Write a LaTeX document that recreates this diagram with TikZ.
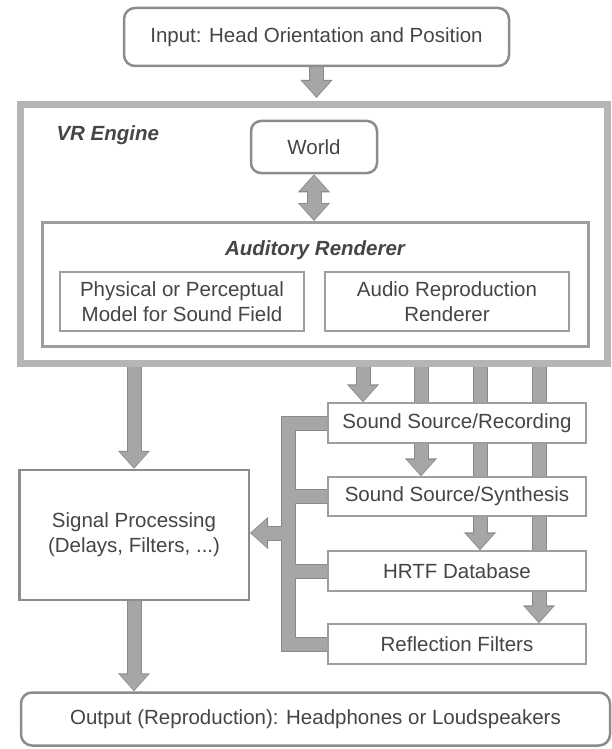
\documentclass[tikz,border=0pt]{standalone}
\usepackage{fontspec}
\setmainfont{Liberation Sans}
\usepackage{tikz}
\usetikzlibrary{arrows.meta,backgrounds}

\definecolor{textgray}{HTML}{454545}
\definecolor{edgegray}{HTML}{8C8C8C}
\definecolor{vrgray}{HTML}{B5B5B5}
\definecolor{boxgray}{HTML}{9E9E9E}
\definecolor{arrowfill}{HTML}{A6A6A6}
\definecolor{arrowedge}{HTML}{8A8A8A}

\tikzset{
  txt/.style={font=\fontsize{20.5}{25}\selectfont, text=textgray, align=center},
  roundbox/.style={txt, draw=edgegray, line width=2.5pt, rounded corners=11pt, fill=white, inner sep=0pt},
  thinbox/.style={txt, draw=boxgray, line width=1.3pt, fill=white, inner sep=0pt},
  title/.style={txt, font=\fontsize{20.5}{25}\selectfont\bfseries\itshape},
  fat/.style={line width=15pt, draw=arrowedge, -{Triangle[width=31pt,length=18pt]},
    postaction={draw=arrowfill, line width=13pt, -{Triangle[width=27pt,length=15.5pt]}, shorten >=1.3pt}},
  fatboth/.style={line width=15pt, draw=arrowedge, {Triangle[width=31pt,length=18pt]}-{Triangle[width=31pt,length=18pt]},
    postaction={draw=arrowfill, line width=13pt, {Triangle[width=27pt,length=15.5pt]}-{Triangle[width=27pt,length=15.5pt]}, shorten >=1.3pt, shorten <=1.3pt}},
  busedge/.style={line width=15pt, draw=arrowedge, line join=miter},
  busfill/.style={line width=13pt, draw=arrowfill, line join=miter}
}

\begin{document}
\begin{tikzpicture}[x=1pt,y=-1pt]

\useasboundingbox (0,0) rectangle (611,749);

% frames
\node[draw=vrgray, line width=7pt, minimum width=587pt, minimum height=258.5pt, inner sep=0pt] (vr) at (314,234.25) {};
\node[title, anchor=west] (vrlabel) at (53,135) {VR Engine};
\node[draw=boxgray, line width=3pt, minimum width=546pt, minimum height=124pt, inner sep=0pt] (aud) at (315,284.5) {};
\node[title] (audlabel) at (315,250) {Auditory Renderer};

% boxes
\node[roundbox, minimum width=385pt, minimum height=58pt] (input) at (316.5,37) {Input: Head Orientation and Position};
\node[roundbox, minimum width=126pt, minimum height=52pt, rounded corners=10pt] (world) at (314,147) {World};
\node[thinbox, minimum width=244pt, minimum height=59pt] (phys) at (182,301.5) {Physical or Perceptual\\Model for Sound Field};
\node[thinbox, minimum width=244pt, minimum height=59pt] (audio) at (447,301.5) {Audio Reproduction\\Renderer};

\node[thinbox, minimum width=258pt, minimum height=40pt] (rec) at (457,423) {Sound Source/Recording};
\node[thinbox, minimum width=258pt, minimum height=39pt] (syn) at (457,496.5) {Sound Source/Synthesis};
\node[thinbox, minimum width=258pt, minimum height=40pt] (hrtf) at (457,571) {HRTF Database};
\node[thinbox, minimum width=258pt, minimum height=40pt] (refl) at (457,644) {Reflection Filters};

\node[thinbox, draw=edgegray, line width=2.5pt, minimum width=229.5pt, minimum height=130pt] (sig) at (134,535) {Signal Processing\\(Delays, Filters, ...)};
\node[roundbox, minimum width=589pt, minimum height=53pt] (output) at (315.5,719) {Output (Reproduction): Headphones or Loudspeakers};

% arrow starts below the engine frame
\coordinate (s1) at (363,365);
\coordinate (s2) at (421,365);
\coordinate (s3) at (480,365);
\coordinate (s4) at (539,365);
\coordinate (bus) at (288,533);

\begin{scope}[on background layer]
\draw[fat] (input.south) -- ([yshift=3.5pt]input.south |- vr.north);
\draw[fatboth] (world.south) -- (world.south |- aud.north);
\draw[fat] (sig.north |- s1) -- (sig.north);
\draw[fat] (s1) -- (s1 |- rec.north);
\draw[fat] (s2) -- (s2 |- syn.north);
\draw[fat] (s3) -- (s3 |- hrtf.north);
\draw[fat] (s4) -- (s4 |- refl.north);
\draw[fat] (sig.south) -- (sig.south |- output.north);

% collecting bus
\draw[busedge] (rec.west) -- (rec.west -| bus) |- (refl.west)
  (syn.west) -- (syn.west -| bus) (hrtf.west) -- (hrtf.west -| bus);
\draw[fat] (bus) -- (bus -| sig.east);
\draw[busfill] (rec.west) -- (rec.west -| bus) |- (refl.west)
  (syn.west) -- (syn.west -| bus) (hrtf.west) -- (hrtf.west -| bus);
\end{scope}

\end{tikzpicture}
\end{document}
